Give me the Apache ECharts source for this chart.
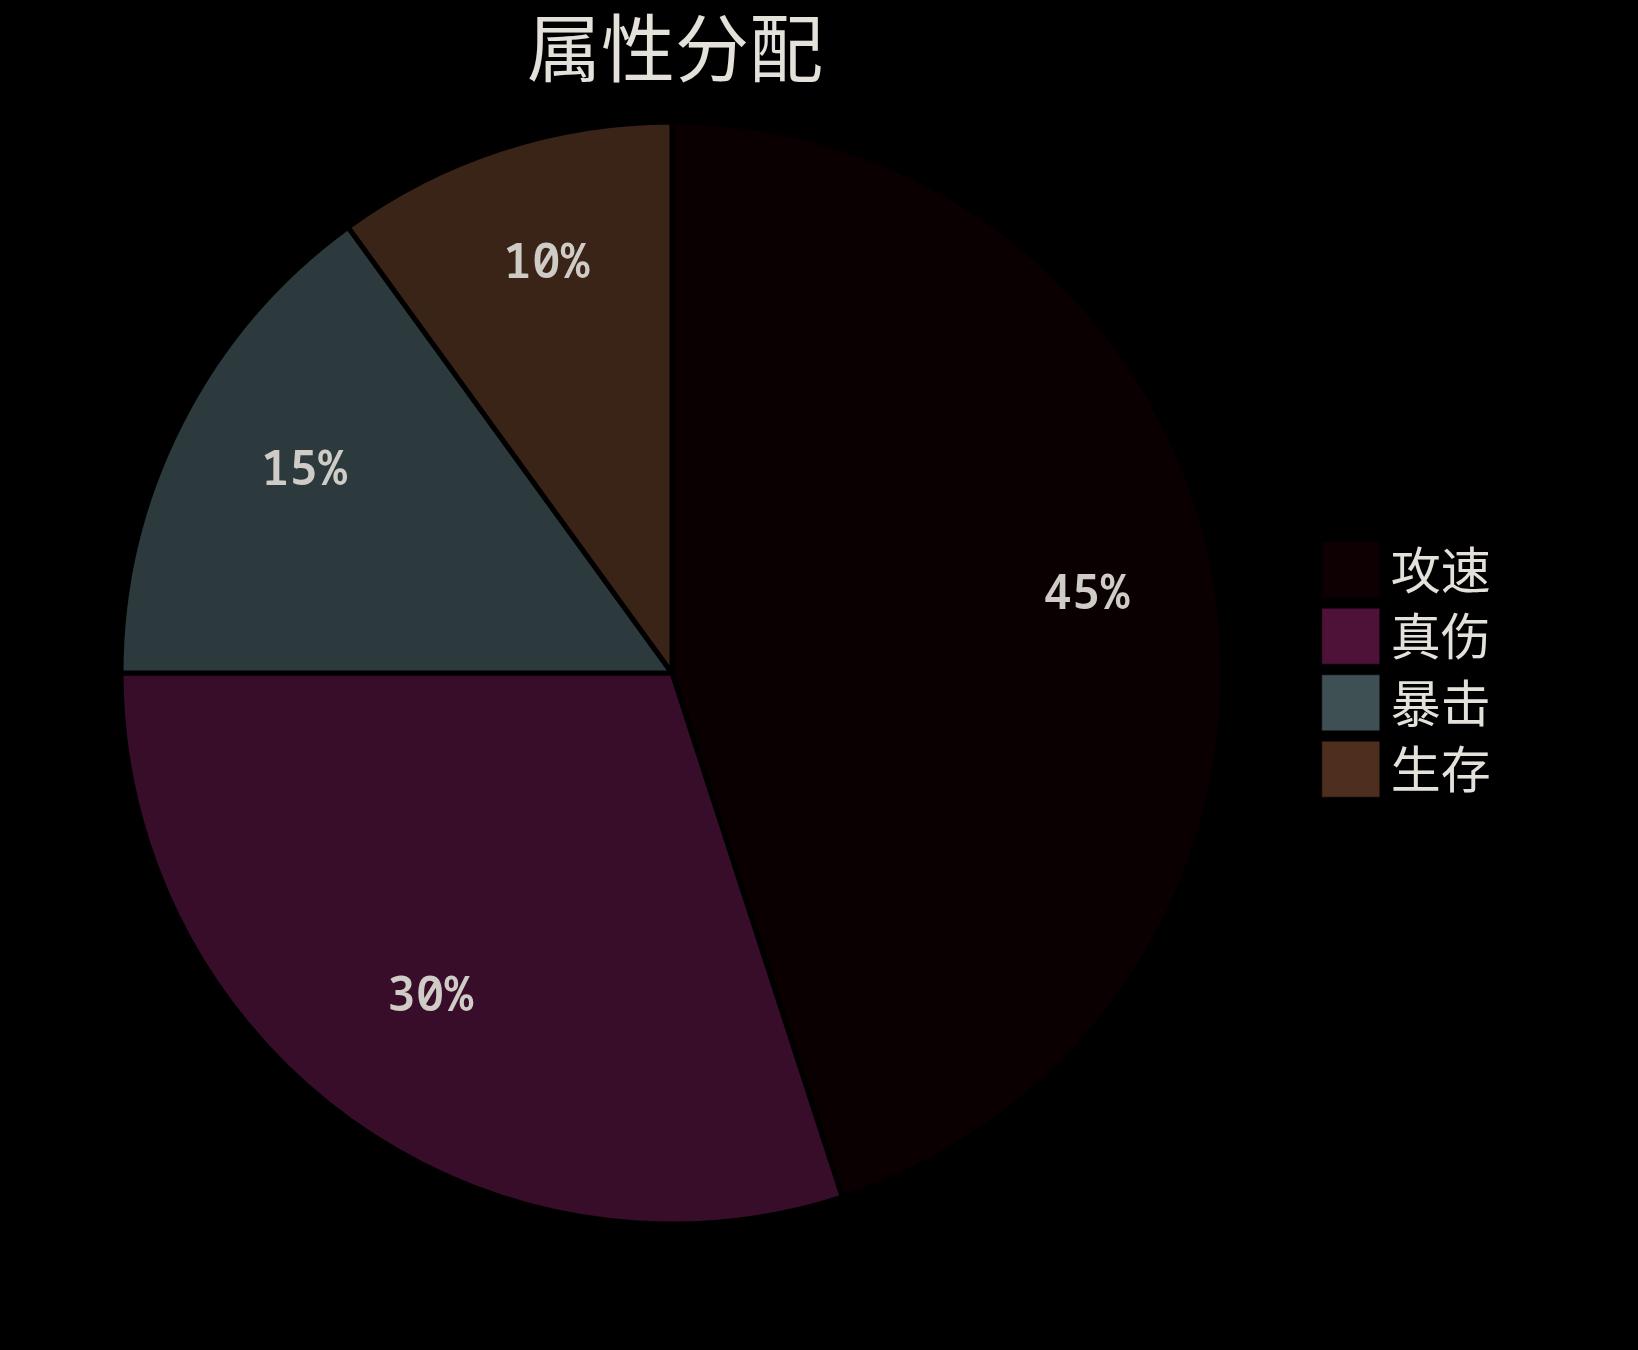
<!DOCTYPE html>
<html>
<head>
<meta charset="utf-8">
<script src="https://cdn.jsdelivr.net/npm/echarts@6/dist/echarts.min.js"></script>
<style>
html,body{margin:0;padding:0;background:#000;}
#chart{width:1638px;height:1350px;}
</style>
</head>
<body>
<div id="chart"></div>
<script>
var titleText = '属性分配';
var categories = ['攻速', '真伤', '暴击', '生存'];
var values = [45, 30, 15, 10];
var sliceColors = ['#0b0001', '#380d29', '#2d3a3d', '#3a2317'];
var legendColors = ['#0e0002', '#4e1238', '#3f5055', '#4e2e1e'];

var FONT = '"Noto Sans CJK SC", "Noto Sans", sans-serif';
var LABEL_FONT = '"Noto Sans Mono", "Liberation Mono", monospace';
var cx = 672, cy = 673, R = 551;

var pieData = categories.map(function (c, i) {
  return { name: c, value: values[i], itemStyle: { color: sliceColors[i] } };
});
var labelData = categories.map(function (c, i) {
  return { name: c, value: values[i] };
});
var legendData = categories.map(function (c, i) {
  return { name: c, itemStyle: { color: legendColors[i], borderColor: 'rgba(0,0,0,0.35)', borderWidth: 1.5 } };
});

var chart = echarts.init(document.getElementById('chart'), null, { renderer: 'canvas' });
chart.setOption({
  backgroundColor: '#000000',
  animation: false,
  title: {
    text: titleText,
    left: 675,
    textAlign: 'center',
    top: 11,
    padding: 0,
    textStyle: { color: '#e4e0da', fontSize: 74, fontWeight: 'normal', fontFamily: FONT }
  },
  legend: {
    orient: 'vertical',
    left: 1321,
    top: 541,
    padding: 0,
    itemWidth: 58,
    itemHeight: 56,
    itemGap: 9,
    icon: 'rect',
    data: legendData,
    textStyle: { color: '#e4e0da', fontSize: 50, fontFamily: FONT, padding: [0, 0, 0, 6] }
  },
  series: [
    {
      type: 'pie',
      center: [cx, cy],
      radius: [0, R],
      startAngle: 90,
      clockwise: true,
      data: pieData,
      label: { show: false },
      labelLine: { show: false },
      itemStyle: { borderColor: '#000000', borderWidth: 5 },
      emphasis: { disabled: true }
    },
    {
      type: 'pie',
      center: [cx, cy],
      radius: [Math.round(R * 0.5), R],
      startAngle: 90,
      clockwise: true,
      silent: true,
      z: 5,
      percentPrecision: 0,
      data: labelData,
      itemStyle: { color: 'rgba(0,0,0,0)', borderWidth: 0 },
      label: {
        show: true,
        position: 'inside',
        formatter: '{d}%',
        color: '#cfcbc6',
        fontSize: 48,
        fontWeight: 600,
        fontFamily: LABEL_FONT,
        offset: [3, -13]
      },
      labelLine: { show: false },
      emphasis: { disabled: true }
    }
  ]
});
</script>
</body>
</html>
